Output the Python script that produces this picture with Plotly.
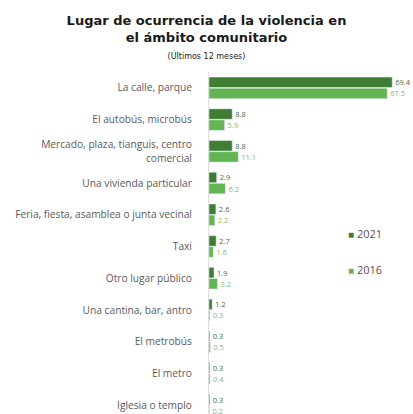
import plotly.graph_objects as go

categories = [
    "La calle, parque",
    "El autobús, microbús",
    "Mercado, plaza, tianguis, centro<br>comercial",
    "Una vivienda particular",
    "Feria, fiesta, asamblea o junta vecinal",
    "Taxi",
    "Otro lugar público",
    "Una cantina, bar, antro",
    "El metrobús",
    "El metro",
    "Iglesia o templo",
]
series_names = ["2021", "2016"]
values_2021 = [69.4, 8.8, 8.8, 2.9, 2.6, 2.7, 1.9, 1.2, 0.3, 0.3, 0.3]
values_2016 = [67.5, 5.9, 11.1, 6.2, 2.2, 1.6, 3.2, 0.3, 0.5, 0.4, 0.2]

colors = ["#3f7d33", "#62b552"]
label_colors = ["#4d6b45", "#7fb873"]

fig = go.Figure()
for name, vals, col, lcol in zip(series_names, [values_2021, values_2016], colors, label_colors):
    fig.add_trace(go.Bar(
        y=categories, x=vals, name=name, orientation="h",
        marker=dict(color=col),
        text=[f"{v:.1f}" for v in vals], textposition="outside",
        textfont=dict(size=7.5, color=lcol, family="Open Sans"),
        constraintext="none", cliponaxis=False, showlegend=False,
        hoverinfo="skip",
    ))
# legend entries: small square swatch rendered in the label itself
for i, (name, col) in enumerate(zip(series_names, colors)):
    fig.add_trace(go.Scatter(
        x=[None], y=[None], mode="markers",
        name=f"<span style='color:{col};font-size:10px'>■</span> {name}",
        marker=dict(symbol="square", size=1, color="rgba(0,0,0,0)"),
        legendgroup=f"g{i}",
    ))

fig.update_layout(
    width=413, height=414,
    margin=dict(l=209, r=6, t=72, b=0, autoexpand=False),
    paper_bgcolor="white", plot_bgcolor="white",
    barmode="group", bargap=0.3, bargroupgap=0.06,
    title=dict(
        text="<b>Lugar de ocurrencia de la violencia en<br>el ámbito comunitario</b><br>"
             "<span style='font-size:8px'>(Últimos 12 meses)</span>",
        x=0.5, xanchor="center", y=0.94, yanchor="top",
        font=dict(family="DejaVu Sans", size=13, color="#1a1a1a"),
    ),
    xaxis=dict(range=[0, 75], visible=False),
    yaxis=dict(
        range=[10.28, -0.5], showline=True, linecolor="#dddddd", linewidth=1,
        ticks="", ticklabelstandoff=14, automargin=False,
        tickfont=dict(family="Open Sans", size=10.2, color="#5a5a5a"),
    ),
    legend=dict(
        x=0.5, y=0.57, xanchor="left", yanchor="top",
        font=dict(family="Open Sans", size=11, color="#555555"),
        tracegroupgap=17, traceorder="grouped", itemwidth=30,
        bgcolor="rgba(0,0,0,0)",
    ),
)

fig.write_html("out.html", config={"displayModeBar": False},
               post_script="document.body.style.margin='0';")
